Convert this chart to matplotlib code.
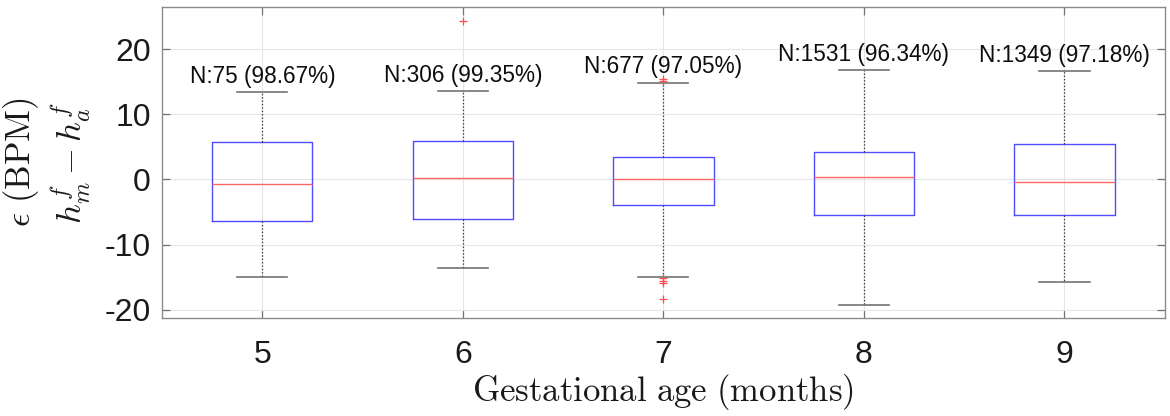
import matplotlib
matplotlib.use("Agg")
import matplotlib.pyplot as plt

# gestational age groups (months)
months = [5, 6, 7, 8, 9]
counts = [75, 306, 677, 1531, 1349]
pct_within = [98.67, 99.35, 97.05, 96.34, 97.18]

# box statistics (BPM)
medians = [-0.75, 0.2, 0.0, 0.3, -0.45]
q1 = [-6.4, -6.0, -3.9, -5.4, -5.4]
q3 = [5.7, 5.9, 3.5, 4.2, 5.5]
whis_lo = [-15.0, -13.6, -15.05, -19.2, -15.8]
whis_hi = [13.4, 13.6, 14.85, 16.8, 16.6]
outliers = [
    [],
    [24.3],
    [15.4, 15.15, -15.2, -15.55, -15.9, -18.3],
    [],
    [],
]

plt.rcParams['mathtext.fontset'] = 'cm'
plt.rcParams['axes.unicode_minus'] = False
plt.rcParams['font.family'] = ['Liberation Sans', 'DejaVu Sans']

fig = plt.figure(figsize=(11.7, 4.16), dpi=100)
ax = fig.add_axes([0.1385, 0.235, 0.857, 0.749])

stats = []
for i in range(len(months)):
    stats.append(dict(med=medians[i], q1=q1[i], q3=q3[i],
                      whislo=whis_lo[i], whishi=whis_hi[i],
                      fliers=outliers[i], label=str(months[i])))

ax.bxp(stats, positions=months, widths=0.5, capwidths=0.25,
       boxprops=dict(color=(0.3, 0.3, 1.0), lw=1.0),
       medianprops=dict(color=(1.0, 0.4, 0.4), lw=1.0),
       whiskerprops=dict(color='0.25', lw=0.9, ls=(0, (1.2, 1.5))),
       capprops=dict(color='0.45', lw=1.2),
       flierprops=dict(marker='+', markeredgecolor=(1.0, 0.3, 0.3),
                       markersize=6, markeredgewidth=0.9, ls='none'))

for i in range(len(months)):
    ax.text(months[i], whis_hi[i] + 2.4,
            'N:%d (%.2f%%)' % (counts[i], pct_within[i]),
            ha='center', va='center', fontsize=16.3, color='0.05')

ax.set_xlim(4.5, 9.5)
ax.set_ylim(-21.3, 26.5)
ax.set_xticks(months)
ax.set_xticklabels([str(m) for m in months])
ax.set_yticks([-20, -10, 0, 10, 20])

ax.grid(True, color='0.9', lw=0.8)
ax.set_axisbelow(True)
for s in ax.spines.values():
    s.set_color('0.55')
    s.set_linewidth(1.0)
ax.tick_params(direction='in', length=6, width=0.9, color='0.45',
               top=True, right=True, labelsize=23, labelcolor='0.1')
ax.tick_params(axis='x', pad=16)
ax.tick_params(axis='y', pad=8)

ax.set_xlabel(r'$\mathrm{Gestational\ age\ (months)}$', fontsize=25, labelpad=1,
              color='0.1')
ax.set_ylabel('$\\epsilon\\ \\mathrm{(BPM)}$\n$h_m^f - h_a^f$', fontsize=25,
              labelpad=8, color='0.1', linespacing=1.25)

fig.savefig('out.png', dpi=100)
